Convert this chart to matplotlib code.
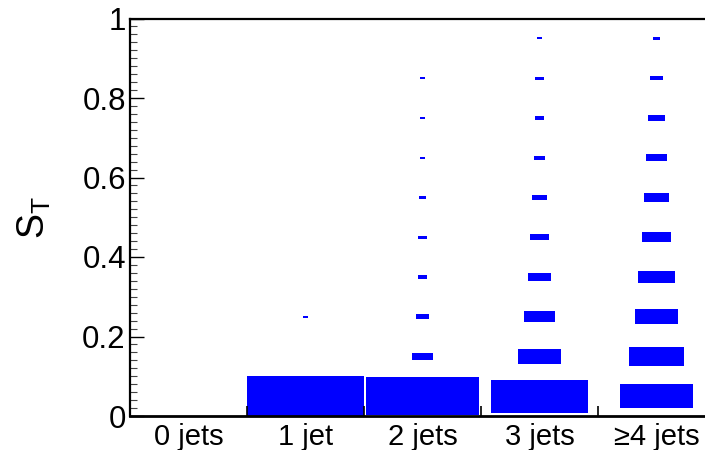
import numpy as np
import matplotlib
matplotlib.use("Agg")
import matplotlib.pyplot as plt
from matplotlib.patches import Rectangle

# Configuration
plt.rcParams.update({
    'font.family': ['Liberation Sans', 'DejaVu Sans'],
    'mathtext.fontset': 'custom',
    'mathtext.rm': 'Liberation Sans',
    'mathtext.it': 'Liberation Sans',
})

# Data: jet multiplicity categories, S_T bins (0.1 wide), box content per cell
categories = ["0 jets", "1 jet", "2 jets", "3 jets", "\u22654 jets"]
st_bin_edges = [0.0, 0.1, 0.2, 0.3, 0.4, 0.5, 0.6, 0.7, 0.8, 0.9, 1.0]
content_0jets = [0, 0, 0, 0, 0, 0, 0, 0, 0, 0]
content_1jet = [100, 0, 5.1, 0, 0, 0, 0, 0, 0, 0]
content_2jets = [97, 17.9, 11.1, 8.5, 7.7, 6.8, 4.3, 4.3, 4.3, 0]
content_3jets = [83.4, 37.4, 26.4, 19.6, 16.2, 13.6, 10.2, 8.5, 7.7, 4.3]
content_4jets = [62, 46.8, 37.4, 31.5, 25.5, 21.3, 17.9, 14.5, 11.1, 6.8]
y_ticks = [0, 0.2, 0.4, 0.6, 0.8, 1.0]
y_tick_labels = ["0", "0.2", "0.4", "0.6", "0.8", "1"]

contents = np.array([content_0jets, content_1jet, content_2jets,
                     content_3jets, content_4jets])
zmax = contents.max()

fig = plt.figure(figsize=(7.05, 4.5), dpi=100)
# axes extends a bit past the right border, as in the cropped original
ax = fig.add_axes([130 / 705, 34 / 450, 585 / 705, 397.5 / 450])

# BOX drawing: box size proportional to cell content
for i, col in enumerate(contents):
    for j, z in enumerate(col):
        if z <= 0:
            continue
        ylo, yhi = st_bin_edges[j], st_bin_edges[j + 1]
        frac = z / zmax
        w = frac * 1.0
        h = max(frac * (yhi - ylo), 0.005)
        xc = i + 0.5
        yc = 0.5 * (ylo + yhi)
        ax.add_patch(Rectangle((xc - w / 2, yc - h / 2), w, h,
                               facecolor='#0000ff', edgecolor='none'))

ax.set_xlim(0, len(categories))
ax.set_ylim(0, 1)

# x axis: ticks at bin edges, labels at bin centres
ax.set_xticks(np.arange(1, len(categories)))
ax.set_xticklabels([])
ax.set_xticks(np.arange(len(categories)) + 0.5, minor=True)
ax.set_xticklabels(categories, minor=True, fontsize=21)
ax.tick_params(axis='x', which='major', direction='in', length=7, width=1.2)
ax.tick_params(axis='x', which='minor', length=0, pad=5)

# y axis
ax.set_yticks(y_ticks)
ax.set_yticklabels(y_tick_labels, fontsize=22.5)
ax.set_yticks(np.arange(0, 1.0001, 0.02), minor=True)
ax.tick_params(axis='y', which='major', direction='in', length=10, width=1.0, pad=3)
ax.tick_params(axis='y', which='minor', direction='in', length=5, width=0.8, color='#444444')

for side in ['left', 'top']:
    ax.spines[side].set_linewidth(1.6)
ax.spines['bottom'].set_linewidth(2.0)
ax.spines['right'].set_visible(False)

ax.set_ylabel(r'S$_{\rm T}$', fontsize=27)
ax.yaxis.set_label_coords(-0.132, 0.5)

plt.savefig("out.png", dpi=100)
plt.close()
